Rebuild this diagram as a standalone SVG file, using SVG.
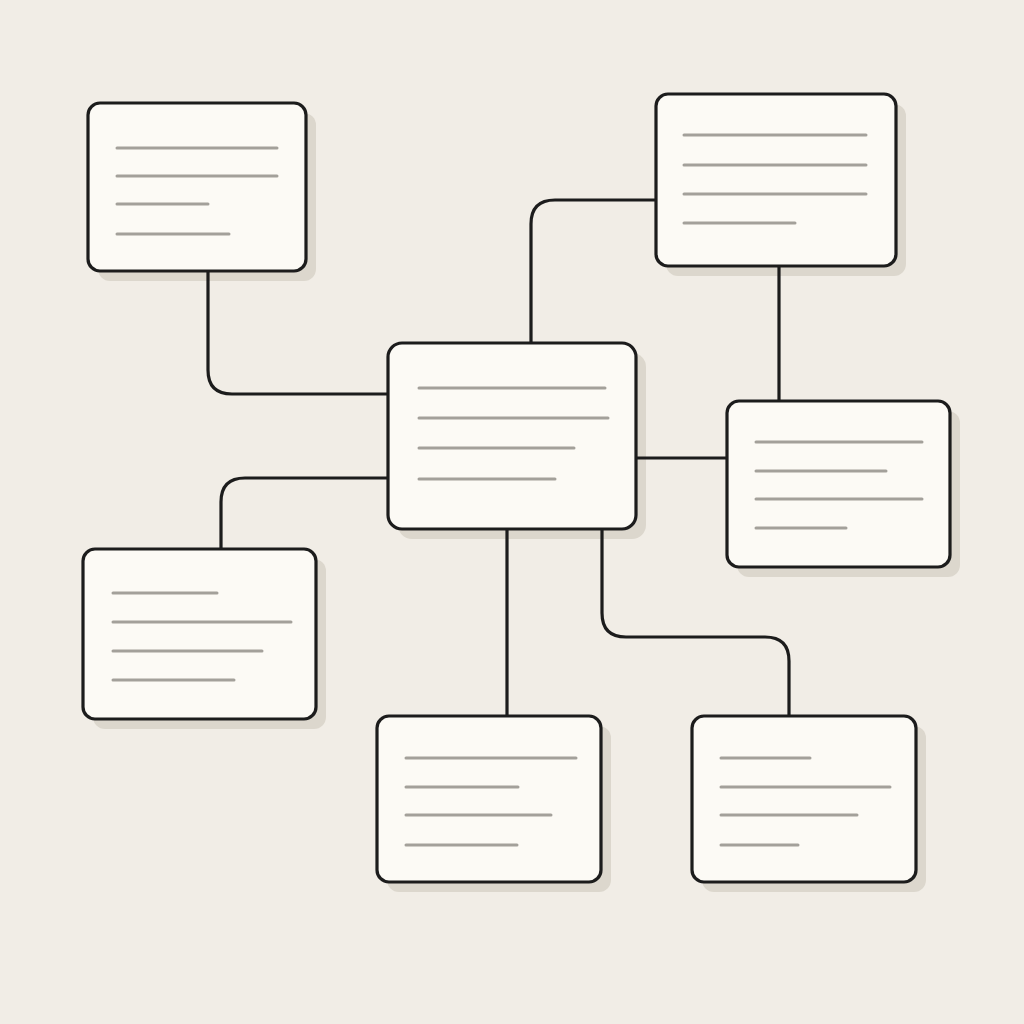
<svg xmlns="http://www.w3.org/2000/svg" width="1024" height="1024" viewBox="0 0 1024 1024">
<style>
.bg{fill:#f1ede6}
.sh{fill:#dcd7cd}
.box{fill:#fcfaf5;stroke:#1c1c1c;stroke-width:3.2}
.ln{stroke:#a3a09a;stroke-width:3;stroke-linecap:round;fill:none}
.cn{stroke:#1c1c1c;stroke-width:3.2;fill:none}
</style>
<rect class="bg" x="0" y="0" width="1024" height="1024"/>
<g id="node1">
<rect class="sh" x="98" y="113" width="218" height="168" rx="12"/>
<rect class="box" x="88" y="103" width="218" height="168" rx="12"/>
<path class="ln" d="M117 148H277M117 176H277M117 204H208M117 234H229"/>
</g>
<g id="node2">
<rect class="sh" x="666" y="104" width="240" height="172" rx="12"/>
<rect class="box" x="656" y="94" width="240" height="172" rx="12"/>
<path class="ln" d="M684 135H866M684 165H866M684 194H866M684 223H795"/>
</g>
<g id="node3">
<rect class="sh" x="398" y="353" width="248" height="186" rx="14"/>
<rect class="box" x="388" y="343" width="248" height="186" rx="14"/>
<path class="ln" d="M419 388H605M419 418H608M419 448H574M419 479H555"/>
</g>
<g id="node4">
<rect class="sh" x="737" y="411" width="223" height="166" rx="12"/>
<rect class="box" x="727" y="401" width="223" height="166" rx="12"/>
<path class="ln" d="M756 442H922M756 471H886M756 499H922M756 528H846"/>
</g>
<g id="node5">
<rect class="sh" x="93" y="559" width="233" height="170" rx="12"/>
<rect class="box" x="83" y="549" width="233" height="170" rx="12"/>
<path class="ln" d="M113 593H217M113 622H291M113 651H262M113 680H234"/>
</g>
<g id="node6">
<rect class="sh" x="387" y="726" width="224" height="166" rx="12"/>
<rect class="box" x="377" y="716" width="224" height="166" rx="12"/>
<path class="ln" d="M406 758H576M406 787H518M406 815H551M406 845H517"/>
</g>
<g id="node7">
<rect class="sh" x="702" y="726" width="224" height="166" rx="12"/>
<rect class="box" x="692" y="716" width="224" height="166" rx="12"/>
<path class="ln" d="M721 758H810M721 787H890M721 815H857M721 845H798"/>
</g>
<g id="connectors">
<path class="cn" d="M208 272 V370 Q208 394 232 394 H387"/>
<path class="cn" d="M531 342 V224 Q531 200 555 200 H655"/>
<path class="cn" d="M779 267 V400"/>
<path class="cn" d="M637 458 H726"/>
<path class="cn" d="M387 478 H245 Q221 478 221 502 V548"/>
<path class="cn" d="M507 530 V715"/>
<path class="cn" d="M602 530 V613 Q602 637 626 637 H765 Q789 637 789 661 V715"/>
</g>
</svg>
